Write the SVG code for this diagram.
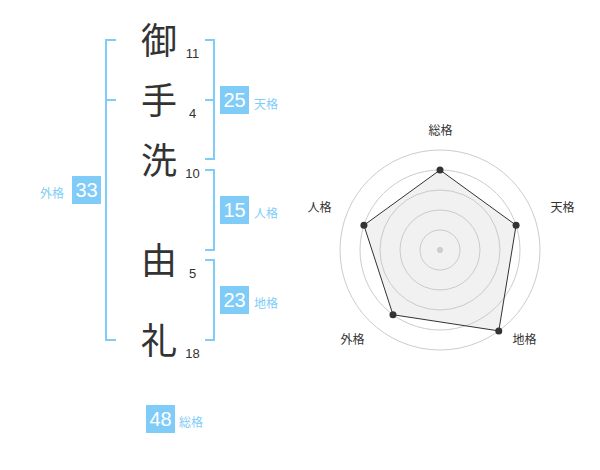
<svg xmlns="http://www.w3.org/2000/svg" width="600" height="470" viewBox="0 0 600 470">
<style>
.k{font-family:"Noto Sans CJK JP","Noto Sans CJK SC",sans-serif;font-size:36px;fill:#333;text-anchor:middle}
.n{font-family:"Liberation Sans",Arial,sans-serif;font-size:13px;fill:#333;text-anchor:middle}
.br{fill:none;stroke:#80ccf8;stroke-width:2}
.box{fill:#80ccf8}
.bt{font-family:"Liberation Sans",Arial,sans-serif;font-size:20px;fill:#fff;text-anchor:middle}
.lb{font-family:"Noto Sans CJK JP","Noto Sans CJK SC",sans-serif;font-size:12px;fill:#80ccf8}
.ax{font-family:"Noto Sans CJK JP","Noto Sans CJK SC",sans-serif;font-size:12px;fill:#333;text-anchor:middle}
.ring{fill:none;stroke:#ccc;stroke-width:1}
.pt{fill:#333}
</style>
<rect width="600" height="470" fill="#fff"/>
<g id="chars">
<g id="c1"><text class="k" x="159" y="54">御</text><text class="n" x="192.5" y="57.5">11</text></g>
<g id="c2"><text class="k" x="159" y="114">手</text><text class="n" x="192.5" y="117.5">4</text></g>
<g id="c3"><text class="k" x="159" y="174">洗</text><text class="n" x="192.5" y="177.5">10</text></g>
<g id="c4"><text class="k" x="159" y="274">由</text><text class="n" x="192.5" y="277.5">5</text></g>
<g id="c5"><text class="k" x="159" y="354">礼</text><text class="n" x="192.5" y="357.5">18</text></g>
</g>
<g id="connectors">
<path class="br" d="M116,40 H106 V340 H116 M106,100 H116"/>
<path class="br" d="M205,40 H214 V159 H205 M214,100 H205"/>
<path class="br" d="M205,170 H214 V250 H205"/>
<path class="br" d="M205,260 H214 V340 H205"/>
</g>
<g id="tenkaku"><rect class="box" x="220" y="86" width="29" height="28"/><text class="bt" x="234.5" y="107">25</text><text class="lb" x="254" y="109">天格</text></g>
<g id="jinkaku"><rect class="box" x="220" y="196" width="29" height="28"/><text class="bt" x="234.5" y="217">15</text><text class="lb" x="254" y="218">人格</text></g>
<g id="chikaku"><rect class="box" x="220" y="286" width="29" height="28"/><text class="bt" x="234.5" y="307">23</text><text class="lb" x="254" y="308">地格</text></g>
<g id="gaikaku"><rect class="box" x="72" y="176" width="29" height="28"/><text class="bt" x="86.5" y="197">33</text><text class="lb" x="40" y="198">外格</text></g>
<g id="soukaku"><rect class="box" x="146" y="405" width="29" height="28"/><text class="bt" x="160.5" y="426">48</text><text class="lb" x="179" y="427">総格</text></g>
<g id="radar">
<circle class="ring" cx="440" cy="250" r="20"/>
<circle class="ring" cx="440" cy="250" r="40"/>
<circle class="ring" cx="440" cy="250" r="60"/>
<circle class="ring" cx="440" cy="250" r="80"/>
<circle class="ring" cx="440" cy="250" r="100"/>
<polygon points="440,170 516.08,225.28 498.78,330.9 392.98,314.72 363.92,225.28" fill="rgba(200,200,200,0.25)" stroke="#333" stroke-width="1"/>
<circle cx="440" cy="250" r="3" fill="#ccc"/>
<circle class="pt" cx="440" cy="170" r="3.5"/>
<circle class="pt" cx="516.08" cy="225.28" r="3.5"/>
<circle class="pt" cx="498.78" cy="330.9" r="3.5"/>
<circle class="pt" cx="392.98" cy="314.72" r="3.5"/>
<circle class="pt" cx="363.92" cy="225.28" r="3.5"/>
<text class="ax" x="440.5" y="135">総格</text>
<text class="ax" x="562.5" y="212">天格</text>
<text class="ax" x="524.5" y="344">地格</text>
<text class="ax" x="352.5" y="344">外格</text>
<text class="ax" x="319.5" y="212">人格</text>
</g>
</svg>
